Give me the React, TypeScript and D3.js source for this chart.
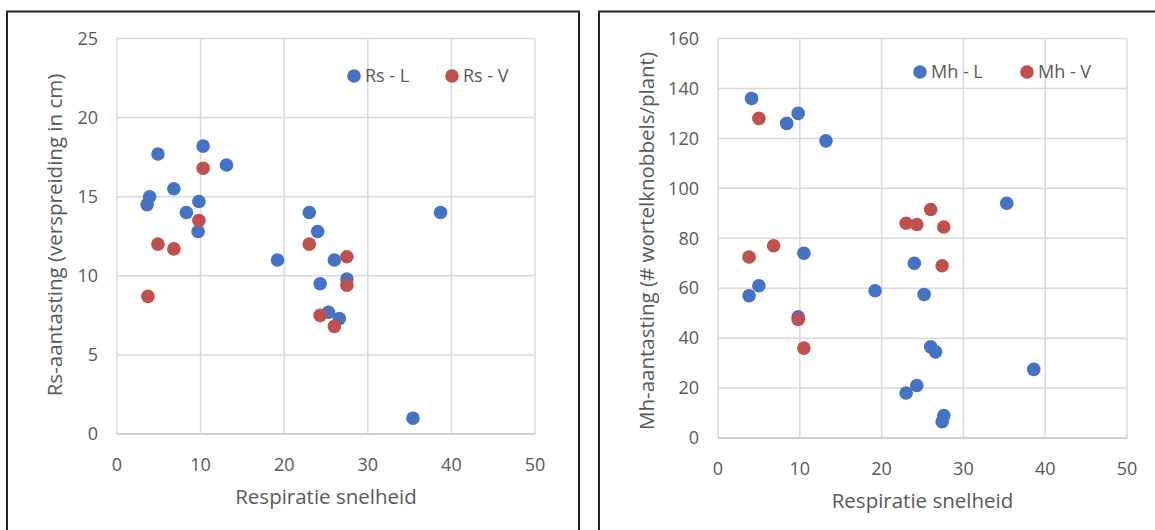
import { useEffect, useRef } from 'react';
import * as d3 from 'd3';

// Rs-aantasting (left chart)
const rsLx = [3.6, 3.9, 4.9, 6.8, 8.3, 9.8, 9.7, 10.3, 13.1, 19.2, 23.0, 24.0, 24.3, 26.0, 27.5, 25.3, 26.6, 35.4, 38.7];
const rsLy = [14.5, 15.0, 17.7, 15.5, 14.0, 14.7, 12.8, 18.2, 17.0, 11.0, 14.0, 12.8, 9.5, 11.0, 9.8, 7.7, 7.3, 1.0, 14.0];
const rsVx = [3.7, 4.9, 6.8, 9.8, 10.3, 23.0, 27.5, 27.5, 24.3, 26.0];
const rsVy = [8.7, 12.0, 11.7, 13.5, 16.8, 12.0, 11.2, 9.4, 7.5, 6.8];

// Mh-aantasting (right chart)
const mhLx = [4.1, 8.4, 9.8, 13.2, 3.8, 5.0, 10.5, 9.8, 19.2, 24.0, 25.2, 26.0, 26.6, 23.0, 24.3, 27.6, 27.4, 35.3, 38.6];
const mhLy = [136, 126, 130, 119, 57, 61, 74, 48.5, 59, 70, 57.5, 36.5, 34.5, 18, 21, 9, 6.5, 94, 27.5];
const mhVx = [3.8, 5.0, 6.8, 9.8, 10.5, 23.0, 24.3, 26.0, 27.6, 27.4];
const mhVy = [72.5, 128, 77, 47.5, 36, 86, 85.5, 91.5, 84.5, 69];

const xTicks = [0, 10, 20, 30, 40, 50];
const rsTicks = [0, 5, 10, 15, 20, 25];
const mhTicks = [0, 20, 40, 60, 80, 100, 120, 140, 160];

const BLUE = '#4472C4';
const RED = '#C0504D';
const TEXT = '#595959';
const GRID = '#D9D9D9';
const FONT = '"Open Sans", sans-serif';

function drawChart(g, opt) {
  const x = d3.scaleLinear().domain([0, 50]).range([opt.left, opt.right]);
  const y = d3.scaleLinear().domain([0, opt.yMax]).range([opt.bottom, opt.top]);

  // frame
  g.append('rect')
    .attr('x', opt.frame[0]).attr('y', opt.frame[1])
    .attr('width', opt.frame[2]).attr('height', opt.frame[3])
    .attr('fill', 'white').attr('stroke', '#222').attr('stroke-width', 2);

  // grid
  g.selectAll('.gy').data(opt.yTicks).enter().append('line')
    .attr('x1', opt.left).attr('x2', opt.right)
    .attr('y1', d => y(d)).attr('y2', d => y(d))
    .attr('stroke', d => d === 0 ? '#BFBFBF' : GRID).attr('stroke-width', 1.5);
  g.selectAll('.gx').data(xTicks).enter().append('line')
    .attr('y1', opt.top).attr('y2', opt.bottom)
    .attr('x1', d => x(d)).attr('x2', d => x(d))
    .attr('stroke', GRID).attr('stroke-width', 1.5);

  // tick labels
  g.selectAll('.ty').data(opt.yTicks).enter().append('text')
    .attr('x', opt.left - 19).attr('y', d => y(d)).attr('dy', '0.35em')
    .attr('text-anchor', 'end').attr('fill', TEXT)
    .style('font-family', FONT).style('font-size', '18px')
    .text(d => d);
  g.selectAll('.tx').data(xTicks).enter().append('text')
    .attr('x', d => x(d)).attr('y', opt.bottom + 31).attr('dy', '0.35em')
    .attr('text-anchor', 'middle').attr('fill', TEXT)
    .style('font-family', FONT).style('font-size', '18px')
    .text(d => d);

  // axis titles
  g.append('text')
    .attr('x', (opt.left + opt.right) / 2).attr('y', opt.xTitleY).attr('dy', '0.35em')
    .attr('text-anchor', 'middle').attr('fill', TEXT)
    .style('font-family', FONT).style('font-size', '20.5px')
    .text('Respiratie snelheid');
  g.append('text')
    .attr('transform', `translate(${opt.yTitleX},${opt.yTitleY}) rotate(-90)`)
    .attr('dy', '0.35em')
    .attr('text-anchor', 'middle').attr('fill', TEXT)
    .style('font-family', FONT).style('font-size', '20.5px')
    .text(opt.yTitle);

  // points
  const series = [
    { xs: opt.lx, ys: opt.ly, color: BLUE },
    { xs: opt.vx, ys: opt.vy, color: RED },
  ];
  series.forEach(s => {
    g.selectAll(null).data(s.xs).enter().append('circle')
      .attr('cx', d => x(d)).attr('cy', (d, i) => y(s.ys[i]))
      .attr('r', 6.8).attr('fill', s.color);
  });

  // legend
  opt.legend.forEach((l, i) => {
    const c = i === 0 ? BLUE : RED;
    g.append('circle').attr('cx', l[0]).attr('cy', opt.legendY).attr('r', 6.8).attr('fill', c);
    g.append('text').attr('x', l[0] + 11).attr('y', opt.legendY).attr('dy', '0.35em')
      .attr('fill', TEXT).style('font-family', FONT).style('font-size', '18px')
      .text(l[1]);
  });
}

export default function App() {
  const svgRef = useRef(null);

  useEffect(() => {
    const svg = d3.select(svgRef.current);
    svg.selectAll('*').remove();

    drawChart(svg.append('g'), {
      frame: [7, 11.5, 572, 540],
      left: 117, right: 535, top: 38.5, bottom: 434,
      yMax: 25, yTicks: rsTicks,
      lx: rsLx, ly: rsLy, vx: rsVx, vy: rsVy,
      xTitleY: 497,
      yTitle: 'Rs-aantasting (verspreiding in cm)', yTitleX: 55, yTitleY: 235,
      legend: [[354, 'Rs - L'], [452, 'Rs - V']], legendY: 76,
    });

    drawChart(svg.append('g'), {
      frame: [599, 11.5, 570, 540],
      left: 718, right: 1127, top: 38.5, bottom: 438,
      yMax: 160, yTicks: mhTicks,
      lx: mhLx, ly: mhLy, vx: mhVx, vy: mhVy,
      xTitleY: 501,
      yTitle: 'Mh-aantasting (# wortelknobbels/plant)', yTitleX: 647, yTitleY: 241,
      legend: [[920, 'Mh - L'], [1027, 'Mh - V']], legendY: 72,
    });
  }, []);

  return (
    <svg ref={svgRef} width={1155} height={530}
      style={{ position: 'absolute', left: 0, top: 0, background: 'white' }} />
  );
}
